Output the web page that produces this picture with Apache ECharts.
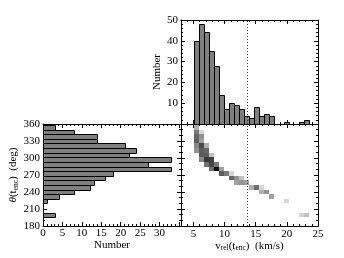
<!DOCTYPE html>
<html><head><meta charset="utf-8">
<script src="https://cdn.jsdelivr.net/npm/echarts@6/dist/echarts.min.js"></script>
<style>html,body{margin:0;padding:0;background:#fff}#c{width:344px;height:258px}</style>
</head><body><div id="c"></div>
<script>
// ---- data ----
const vBinStart = 5.09;          // km/s, left edge of first v_rel bin
const vBinWidth = 0.806;         // km/s
const vCounts = [40,48,44,35,28,14,7,10,9,7,4,3,8,4,5,4,0,0,1,0,0,1,2];
const thetaBinTop = 358.3;       // deg, upper edge of first theta bin
const thetaBinWidth = 8.15;      // deg
const thetaCounts = [3,8,14,14,21,24,22,33,27,33,18,16,13,12,8,4,1,0,0,3]; // from high theta down
// 2D histogram cells: [v bin index, theta bin index (from top), count]
const cells = [
  [0,0,3],[0,1,7],[0,2,9],[0,3,10],[0,4,6],[0,5,5],
  [1,1,1],[1,2,5],[1,3,4],[1,4,12],[1,5,10],[1,6,10],[1,7,6],
  [2,4,3],[2,5,9],[2,6,10],[2,7,14],[2,8,8],
  [3,6,2],[3,7,13],[3,8,12],[3,9,8],
  [4,8,7],[4,9,21],
  [5,9,4],[5,10,10],
  [6,10,7],
  [7,10,1],[7,11,9],
  [8,11,5],[8,12,4],
  [9,11,2],[9,12,5],
  [10,12,4],
  [11,13,3],
  [12,13,8],
  [13,13,1],[13,14,3],
  [14,14,5],
  [15,15,4],
  [18,16,1],
  [21,19,1],[22,19,2]
];
const vCut = 13.6;
const vRange = [3, 25];
const vMajorTicks = [5,10,15,20,25];
const countRangeTop = [0, 50];
const countRangeLeft = [0, 35.5];
const thetaRange = [180, 360];

// ---- chart ----
const FONT = 'Liberation Serif';
const txt = {fontFamily: FONT, fontSize: 11, color: '#000'};
const black = {color: '#000', width: 1};

function baseAxis(extra) {
  return Object.assign({
    type: 'value',
    axisLine: {show: true, onZero: false, lineStyle: black},
    axisTick: {show: true, inside: true, length: 4, lineStyle: black},
    minorTick: {show: true, length: 2, splitNumber: 5, lineStyle: black},
    axisLabel: {show: false},
    splitLine: {show: false},
    minorSplitLine: {show: false}
  }, extra);
}

const vMinorTickValues = [];
for (let v = vRange[0]; v <= vRange[1]; v++) vMinorTickValues.push(v);

function vAxes(grid, labels, name) {
  return [
    baseAxis({gridIndex: grid, position: 'bottom', min: vRange[0], max: vRange[1],
      axisTick: {show: true, inside: true, length: 2, lineStyle: black, customValues: vMinorTickValues},
      minorTick: {show: false}}),
    baseAxis({gridIndex: grid, position: 'top', min: vRange[0], max: vRange[1],
      axisTick: {show: true, inside: true, length: 2, lineStyle: black, customValues: vMinorTickValues},
      minorTick: {show: false}}),
    baseAxis({gridIndex: grid, position: 'bottom', min: vRange[0], max: vRange[1],
      axisTick: {show: true, inside: true, length: 4, lineStyle: black, customValues: vMajorTicks},
      minorTick: {show: false},
      axisLabel: labels ? Object.assign({show: true, margin: 3, customValues: vMajorTicks}, txt) : {show: false},
      name: name || '', nameLocation: 'middle', nameGap: 12,
      nameTextStyle: {fontFamily: FONT, fontSize: 11, color: '#000',
        rich: {
          n: {fontFamily: FONT, fontSize: 11, lineHeight: 12, color: '#000'},
          s: {fontFamily: FONT, fontSize: 7.5, lineHeight: 6, verticalAlign: 'bottom', color: '#000'}
        }}
    }),
    baseAxis({gridIndex: grid, position: 'top', min: vRange[0], max: vRange[1],
      axisTick: {show: true, inside: true, length: 4, lineStyle: black, customValues: vMajorTicks},
      minorTick: {show: false}})
  ];
}

const xAxes = [].concat(
  vAxes(0, false),                                          // 0-3
  vAxes(2, true, '{n|v}{s|rel}{n|(t}{s|enc}{n|)  (km/s)}'), // 4-7
  [
    baseAxis({gridIndex: 1, position: 'bottom', min: countRangeLeft[0], max: countRangeLeft[1], interval: 5,
      axisLabel: Object.assign({show: true, margin: 2, formatter: v => v <= 30 ? String(v) : ''}, txt),
      name: 'Number', nameLocation: 'middle', nameGap: 11, nameTextStyle: txt}), // 8
    baseAxis({gridIndex: 1, position: 'top', min: countRangeLeft[0], max: countRangeLeft[1], interval: 5}) // 9
  ]
);

const yAxes = [
  baseAxis({gridIndex: 0, position: 'left', min: countRangeTop[0], max: countRangeTop[1], interval: 10,
    axisLabel: Object.assign({show: true, margin: 3, formatter: v => v === 0 ? '' : String(v)}, txt),
    name: 'Number', nameLocation: 'middle', nameGap: 15, nameTextStyle: txt}),
  baseAxis({gridIndex: 0, position: 'right', min: countRangeTop[0], max: countRangeTop[1], interval: 10}),
  baseAxis({gridIndex: 1, position: 'left', min: thetaRange[0], max: thetaRange[1], interval: 30,
    minorTick: {show: true, length: 2, splitNumber: 3, lineStyle: black},
    axisLabel: Object.assign({show: true, margin: 3}, txt),
    name: '{i|θ}{n|(t}{s|enc}{n|)  (deg)}', nameLocation: 'middle', nameGap: 21,
    nameTextStyle: {fontFamily: FONT, fontSize: 11, color: '#000',
      rich: {
        i: {fontFamily: FONT, fontSize: 11, fontStyle: 'italic', lineHeight: 12, color: '#000'},
        n: {fontFamily: FONT, fontSize: 11, lineHeight: 12, color: '#000'},
        s: {fontFamily: FONT, fontSize: 7.5, lineHeight: 6, verticalAlign: 'bottom', color: '#000'}
      }}}),
  baseAxis({gridIndex: 1, position: 'right', min: thetaRange[0], max: thetaRange[1], interval: 30,
    minorTick: {show: true, length: 2, splitNumber: 3, lineStyle: black}}),
  baseAxis({gridIndex: 2, position: 'left', min: thetaRange[0], max: thetaRange[1], interval: 30,
    minorTick: {show: true, length: 2, splitNumber: 3, lineStyle: black}}),
  baseAxis({gridIndex: 2, position: 'right', min: thetaRange[0], max: thetaRange[1], interval: 30,
    minorTick: {show: true, length: 2, splitNumber: 3, lineStyle: black}})
];

const BAR_FILL = '#7f7f7f';
const crisp = v => Math.round(v) + 0.5;

const topData = vCounts.map((c, i) => [vBinStart + i * vBinWidth, vBinStart + (i + 1) * vBinWidth, c]).filter(d => d[2] > 0);
const leftData = thetaCounts.map((c, k) => [thetaBinTop - (k + 1) * thetaBinWidth, thetaBinTop - k * thetaBinWidth, c]).filter(d => d[2] > 0);
const maxCell = Math.max.apply(null, cells.map(c => c[2]));
const cellData = cells.map(c => [
  vBinStart + c[0] * vBinWidth, vBinStart + (c[0] + 1) * vBinWidth,
  thetaBinTop - (c[1] + 1) * thetaBinWidth, thetaBinTop - c[1] * thetaBinWidth, c[2]
]);

const cutLine = {
  silent: true, symbol: ['none', 'none'], label: {show: false},
  lineStyle: {color: '#333', width: 1, type: [1, 2]},
  data: [{xAxis: vCut}], animation: false
};

const option = {
  animation: false,
  backgroundColor: '#fff',
  grid: [
    {left: 181, top: 20, width: 137, height: 104},
    {left: 43, top: 124, width: 138, height: 102},
    {left: 181, top: 124, width: 137, height: 102}
  ],
  xAxis: xAxes,
  yAxis: yAxes,
  series: [
    {
      type: 'custom', xAxisIndex: 0, yAxisIndex: 0, data: topData, clip: true,
      renderItem(params, api) {
        const p0 = api.coord([api.value(0), api.value(2)]);
        const p1 = api.coord([api.value(1), 0]);
        const x0 = crisp(p0[0]), x1 = crisp(p1[0]), y0 = crisp(p0[1]), y1 = crisp(p1[1]);
        return {type: 'rect', shape: {x: x0, y: y0, width: x1 - x0, height: y1 - y0},
          style: {fill: BAR_FILL, stroke: '#000', lineWidth: 1}};
      },
      markLine: cutLine
    },
    {
      type: 'custom', xAxisIndex: 8, yAxisIndex: 2, data: leftData, clip: true,
      renderItem(params, api) {
        const p0 = api.coord([0, api.value(1)]);
        const p1 = api.coord([api.value(2), api.value(0)]);
        const x0 = crisp(p0[0]), x1 = crisp(p1[0]), y0 = crisp(p0[1]), y1 = crisp(p1[1]);
        return {type: 'rect', shape: {x: x0, y: y0, width: x1 - x0, height: y1 - y0},
          style: {fill: BAR_FILL, stroke: '#000', lineWidth: 1}};
      }
    },
    {
      type: 'custom', xAxisIndex: 4, yAxisIndex: 4, data: cellData, clip: true,
      renderItem(params, api) {
        const p0 = api.coord([api.value(0), api.value(3)]);
        const p1 = api.coord([api.value(1), api.value(2)]);
        const g = Math.round(255 * (1 - Math.pow(api.value(4) / maxCell, 0.6)));
        const x0 = Math.round(p0[0]), x1 = Math.round(p1[0]), y0 = Math.round(p0[1]), y1 = Math.round(p1[1]);
        return {type: 'rect', shape: {x: x0, y: y0, width: x1 - x0, height: y1 - y0},
          style: {fill: 'rgb(' + g + ',' + g + ',' + g + ')'}};
      },
      markLine: cutLine
    }
  ]
};

const chart = echarts.init(document.getElementById('c'), null, {renderer: 'canvas'});
chart.setOption(option);
</script>
</body></html>
